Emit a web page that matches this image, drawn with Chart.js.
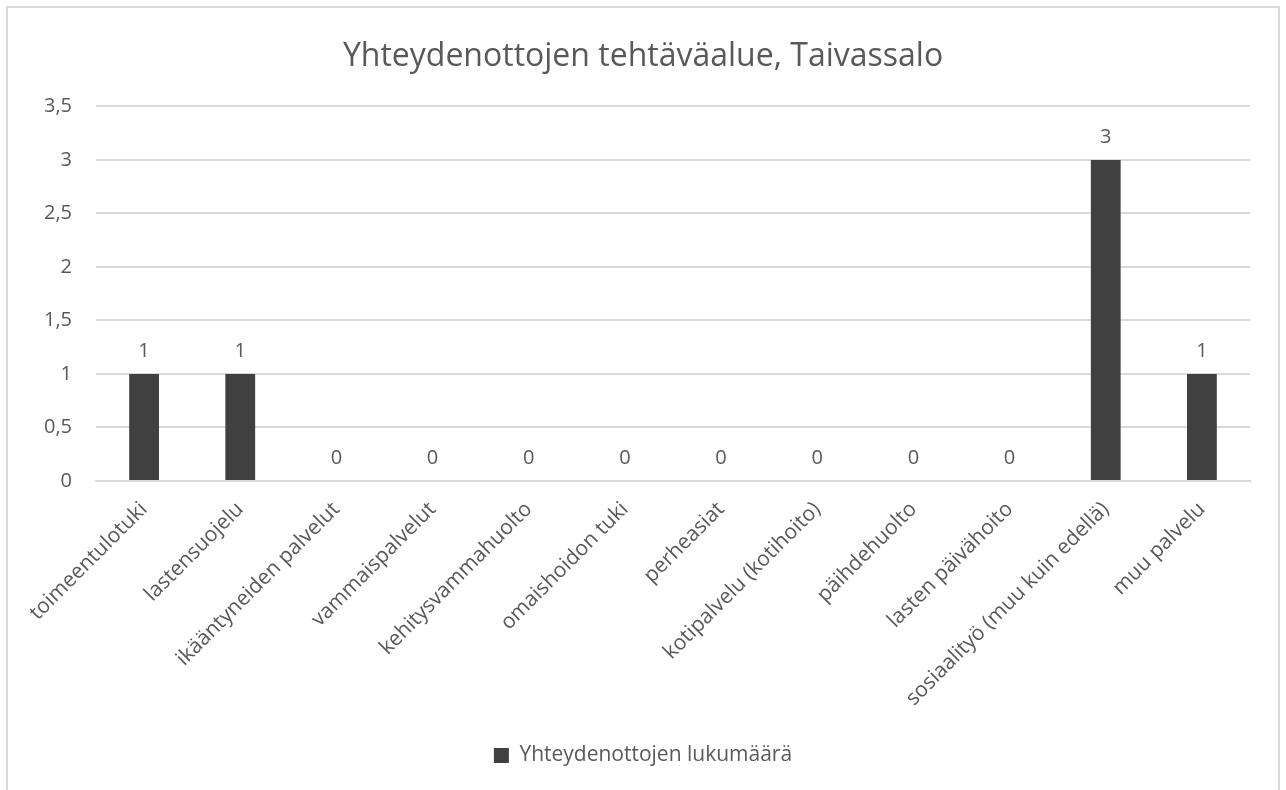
<!DOCTYPE html>
<html>
<head>
<meta charset="utf-8">
<script src="https://cdn.jsdelivr.net/npm/chart.js@4.4.1/dist/chart.umd.min.js"></script>
<style>
  html, body { margin: 0; padding: 0; background: #fff; overflow: hidden; }
  #frame {
    position: absolute; left: 6px; top: 6px;
    width: 1270px; height: 800px;
    border: 2px solid #d9d9d9;
  }
  #box { position: relative; width: 1270px; height: 782px; }
</style>
</head>
<body>
<div id="frame"><div id="box"><canvas id="tehtavaChart"></canvas></div></div>
<script>
// Tehtäväalueet ja yhteydenottojen määrät
const categories = [
  'toimeentulotuki', 'lastensuojelu', 'ikääntyneiden palvelut', 'vammaispalvelut',
  'kehitysvammahuolto', 'omaishoidon tuki', 'perheasiat', 'kotipalvelu (kotihoito)',
  'päihdehuolto', 'lasten päivähoito', 'sosiaalityö (muu kuin edellä)', 'muu palvelu'
];
const contactCounts = [1, 1, 0, 0, 0, 0, 0, 0, 0, 0, 3, 1];
const yTicks = [0, 0.5, 1, 1.5, 2, 2.5, 3, 3.5];

const textGray = '#595959';
const barGray = '#404040';
const fontFamily = '"Open Sans", "Noto Sans", sans-serif';

// Arvot pylväiden yläpuolelle (kuten Excelin arvopisteet)
const valueLabels = {
  id: 'valueLabels',
  afterDatasetsDraw(chart) {
    const { ctx } = chart;
    const meta = chart.getDatasetMeta(0);
    ctx.save();
    ctx.font = '20px ' + fontFamily;
    ctx.fillStyle = textGray;
    ctx.textAlign = 'center';
    ctx.textBaseline = 'middle';
    meta.data.forEach((bar, i) => {
      ctx.fillText(String(contactCounts[i]), bar.x, bar.y - 23);
    });
    ctx.restore();
  }
};

new Chart(document.getElementById('tehtavaChart'), {
  type: 'bar',
  data: {
    labels: categories,
    datasets: [{
      label: 'Yhteydenottojen lukumäärä',
      data: contactCounts,
      backgroundColor: barGray,
      borderWidth: 0,
      categoryPercentage: 1,
      barPercentage: 0.31
    }]
  },
  options: {
    responsive: true,
    maintainAspectRatio: false,
    animation: false,
    layout: { padding: { left: 28, right: 28, top: 0, bottom: 14 } },
    plugins: {
      title: {
        display: true,
        text: 'Yhteydenottojen tehtäväalue, Taivassalo',
        color: textGray,
        font: { family: fontFamily, size: 32, weight: 'normal' },
        padding: { top: 30, bottom: 30 }
      },
      legend: {
        position: 'bottom',
        labels: {
          color: textGray,
          font: { family: fontFamily, size: 21 },
          boxWidth: 15,
          boxHeight: 15,
          padding: 10
        }
      },
      tooltip: { enabled: false }
    },
    scales: {
      x: {
        grid: { display: false },
        border: { color: '#d9d9d9', width: 2 },
        ticks: {
          color: textGray,
          font: { family: fontFamily, size: 21 },
          minRotation: 45,
          maxRotation: 45,
          autoSkip: false,
          padding: 8
        },
        afterFit: (scale) => { scale.height = 254; }
      },
      y: {
        min: 0,
        max: 3.5,
        afterBuildTicks: (scale) => { scale.ticks = yTicks.map(v => ({ value: v })); },
        grid: { color: '#d9d9d9', lineWidth: 2, drawTicks: false },
        border: { display: false },
        ticks: {
          color: textGray,
          font: { family: fontFamily, size: 20 },
          padding: 24,
          callback: (value) => String(value).replace('.', ',')
        },
        afterFit: (scale) => { scale.width = 60; }
      }
    }
  },
  plugins: [valueLabels]
});
</script>
</body>
</html>
